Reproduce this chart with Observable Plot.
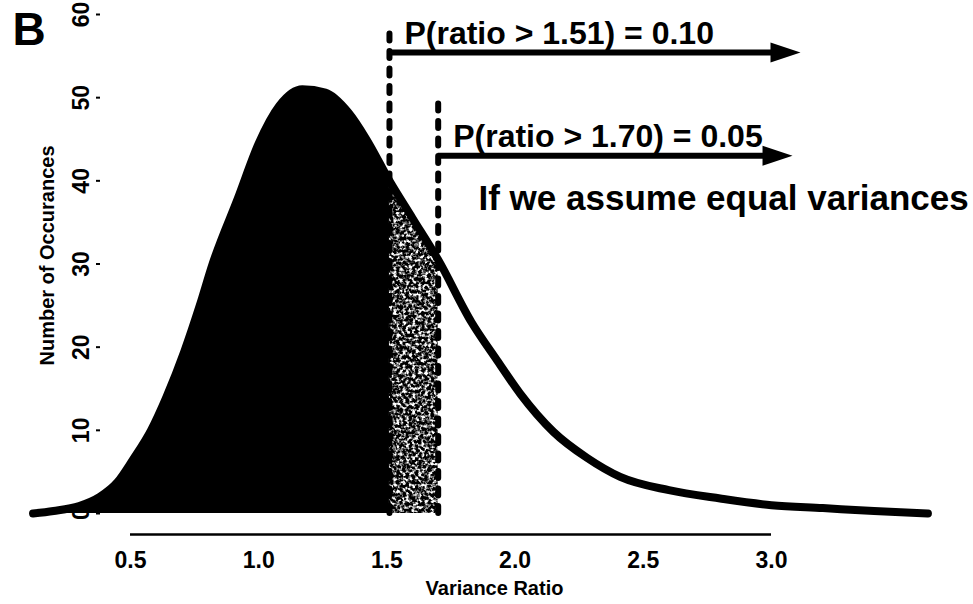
<!DOCTYPE html>
<html>
<head>
<meta charset="utf-8">
<script src="https://cdn.jsdelivr.net/npm/d3@7"></script>
<script src="https://cdn.jsdelivr.net/npm/@observablehq/plot@0.6"></script>
<style>
  html, body { margin: 0; padding: 0; background: #fff; }
  #chart svg { display: block; }
</style>
</head>
<body>
<div id="chart"></div>
<script>
// Distribution of simulated variance ratios
const ratio = [0.12, 0.2, 0.3, 0.38, 0.45, 0.51, 0.58, 0.64, 0.71, 0.77, 0.82, 0.92, 1.0, 1.08, 1.17, 1.26, 1.35, 1.42, 1.51, 1.6, 1.7, 1.83, 1.93, 2.02, 2.15, 2.28, 2.41, 2.6, 2.8, 3.0, 3.2, 3.4, 3.61];
const occurrences = [0, 0.3, 0.9, 2.0, 3.8, 6.5, 10, 14, 19.5, 25, 30, 38, 44.5, 49, 51, 50.6, 48.2, 45, 40, 35.5, 30.5, 23, 18.4, 14.4, 9.8, 6.7, 4.4, 2.8, 1.8, 1.0, 0.65, 0.3, 0];

// Critical ratios and their upper-tail probabilities
const thresholds = [1.51, 1.70];
const tailProbs = ["0.10", "0.05"];
const markerTops = [58.5, 49.8];   // upper end of each dashed marker (occurrences)
const arrowLevels = [55.44, 43.03]; // height of each arrow (occurrences)
const arrowEnds = [3.035, 3.004];   // end of each arrow shaft (variance ratio)

// Axis ticks
const xTicks = [0.5, 1.0, 1.5, 2.0, 2.5, 3.0];
const xTickLabels = ["0.5", "1.0", "1.5", "2.0", "2.5", "3.0"];
const yTicks = [0, 10, 20, 30, 40, 50, 60];

const curve = ratio.map((x, i) => ({x, y: occurrences[i]}));
const lower = curve.filter(d => d.x <= thresholds[0]);
const band = curve.filter(d => d.x >= thresholds[0] && d.x <= thresholds[1]);
const arrows = thresholds.map((t, i) => ({
  start: t, end: arrowEnds[i], y: arrowLevels[i], top: markerTops[i],
  label: `P(ratio > ${t.toFixed(2)}) = ${tailProbs[i]}`
}));

// Filled, elongated arrowhead; origin sits at the end of the shaft
const arrowHead = {
  draw(context, size) {
    const r = Math.sqrt(size / Math.PI);
    context.moveTo(2 * r, 0);
    context.lineTo(-r, -r);
    context.lineTo(-r, r);
    context.closePath();
  }
};

// Stippled texture for the band between the two critical ratios
const defs = () => {
  const ns = "http://www.w3.org/2000/svg";
  const g = document.createElementNS(ns, "defs");
  g.innerHTML = `
    <filter id="grain" x="0" y="0" width="100%" height="100%" filterUnits="userSpaceOnUse">
      <feTurbulence type="fractalNoise" baseFrequency="0.32" numOctaves="2" seed="7" result="noise"/>
      <feColorMatrix in="noise" type="matrix"
        values="0 0 0 0 0  0 0 0 0 0  0 0 0 0 0  -4 0 0 0 2.75"/>
    </filter>
    <pattern id="stipple" patternUnits="userSpaceOnUse" width="973" height="604">
      <rect width="973" height="604" fill="#000" filter="url(#grain)"/>
    </pattern>`;
  return g;
};

const font = "'Liberation Sans', Arial, Helvetica, sans-serif";

const chart = Plot.plot({
  width: 973,
  height: 604,
  marginLeft: 100,
  marginTop: 14,
  marginBottom: 91,
  marginRight: 0,
  x: {domain: [0.5, 3.0], range: [130, 771], label: null},
  y: {domain: [0, 60], label: null},
  style: {fontFamily: font, fontWeight: "bold", background: "#fff", color: "#000"},
  marks: [
    defs,
    Plot.axisY({ticks: yTicks, tickSize: 4, tickRotate: -90, tickPadding: 8,
      fontSize: 23, strokeWidth: 2, line: true, label: null}),
    Plot.axisX({ticks: xTicks, tickSize: 0, tickPadding: 38, fontSize: 23,
      tickFormat: (d, i) => xTickLabels[i], label: null}),
    Plot.ruleY([0], {x1: d3.min(xTicks), x2: d3.max(xTicks), dy: 21, strokeWidth: 2.5}),
    Plot.areaY(lower, {x: "x", y: "y", fill: "#000", curve: "monotone-x"}),
    Plot.areaY(band, {x: "x", y: "y", fill: "url(#stipple)", curve: "monotone-x"}),
    Plot.line(curve, {x: "x", y: "y", stroke: "#000", strokeWidth: 8,
      strokeLinecap: "round", strokeLinejoin: "round", curve: "monotone-x"}),
    Plot.ruleX(arrows, {x: "start", y1: 0, y2: "top", strokeWidth: 6,
      strokeDasharray: "7,10.5", strokeLinecap: "round"}),
    Plot.ruleY(arrows, {y: "y", x1: "start", x2: "end", strokeWidth: 6}),
    Plot.dot(arrows, {x: "end", y: "y", r: 10, symbol: arrowHead, fill: "#000", stroke: null}),
    Plot.text(arrows, {x: "start", y: "y", text: "label", textAnchor: "start",
      lineAnchor: "top", dx: 15, dy: -31, fontSize: 32}),
    Plot.text(["If we assume equal variances"], {frameAnchor: "top-left", textAnchor: "start",
      lineAnchor: "top", dx: 378, dy: 171, fontSize: 35}),
    Plot.text(["B"], {frameAnchor: "top-left", textAnchor: "start",
      lineAnchor: "top", dx: -88, dy: -2, fontSize: 46}),
    Plot.text(["Number of Occurances"], {frameAnchor: "left", rotate: -90,
      textAnchor: "middle", lineAnchor: "middle", dx: -53, dy: -8.5, fontSize: 20}),
    Plot.text(["Variance Ratio"], {frameAnchor: "bottom", lineAnchor: "top",
      dx: -42.5, dy: 67, fontSize: 20})
  ]
});

document.getElementById("chart").appendChild(chart);
</script>
</body>
</html>
